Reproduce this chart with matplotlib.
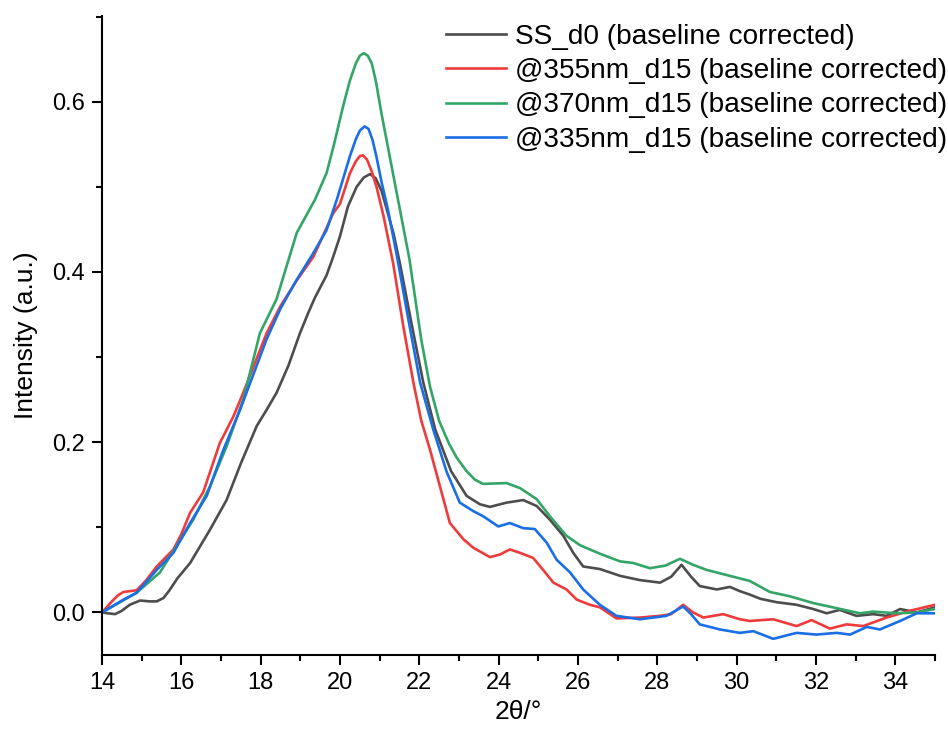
import numpy as np
import matplotlib
matplotlib.use("Agg")
import matplotlib.pyplot as plt
from matplotlib.ticker import MultipleLocator, FormatStrFormatter

plt.rcParams['font.family'] = ['Liberation Sans', 'DejaVu Sans']

# --- XRD patterns (baseline corrected) ---
ss_d0_x = [14.00, 14.15, 14.33, 14.50, 14.70, 14.96, 15.20, 15.38, 15.55, 15.70,
           15.90, 16.22, 16.72, 17.14, 17.50, 17.90, 18.15, 18.40, 18.70, 18.99,
           19.20, 19.37, 19.66, 19.83, 20.00, 20.20, 20.42, 20.60, 20.76, 20.90,
           21.05, 21.20, 21.35, 21.51, 21.80, 22.10, 22.40, 22.80, 23.19, 23.53,
           23.78, 24.20, 24.62, 24.96, 25.29, 25.63, 25.88, 26.13, 26.55, 27.06,
           27.56, 28.07, 28.35, 28.61, 28.85, 29.07, 29.50, 29.83, 30.08, 30.33,
           30.60, 31.01, 31.51, 31.93, 32.27, 32.60, 33.02, 33.44, 33.78, 34.12,
           34.54, 35.00]
ss_d0_y = [0.000, -0.001, -0.002, 0.002, 0.009, 0.014, 0.013, 0.013, 0.017, 0.026,
           0.040, 0.058, 0.097, 0.132, 0.175, 0.219, 0.238, 0.258, 0.290, 0.328,
           0.352, 0.370, 0.396, 0.418, 0.442, 0.477, 0.500, 0.511, 0.515, 0.510,
           0.495, 0.470, 0.445, 0.410, 0.340, 0.270, 0.215, 0.166, 0.137, 0.127,
           0.124, 0.129, 0.132, 0.125, 0.109, 0.090, 0.070, 0.054, 0.051, 0.043,
           0.038, 0.035, 0.042, 0.056, 0.042, 0.031, 0.027, 0.030, 0.025, 0.021,
           0.016, 0.012, 0.009, 0.004, -0.001, 0.003, -0.004, -0.002, -0.004, 0.004,
           0.000, 0.006]

nm355_x = [14.00, 14.25, 14.40, 14.54, 14.70, 14.87, 15.10, 15.38, 15.80, 16.00,
           16.22, 16.55, 16.97, 17.31, 17.56, 18.15, 18.50, 18.91, 19.33, 19.83,
           20.00, 20.25, 20.40, 20.50, 20.58, 20.68, 20.80, 20.92, 21.10, 21.34,
           21.60, 21.85, 22.05, 22.27, 22.52, 22.77, 23.11, 23.36, 23.78, 24.03,
           24.28, 24.54, 24.87, 25.12, 25.38, 25.71, 25.97, 26.30, 26.55, 26.97,
           27.56, 28.07, 28.35, 28.65, 28.90, 29.16, 29.66, 30.08, 30.33, 30.92,
           31.51, 31.89, 32.35, 32.77, 33.19, 33.78, 34.37, 35.00]
nm355_y = [0.000, 0.013, 0.020, 0.024, 0.025, 0.026, 0.037, 0.054, 0.074, 0.092,
           0.117, 0.141, 0.199, 0.230, 0.258, 0.328, 0.360, 0.390, 0.418, 0.469,
           0.480, 0.516, 0.530, 0.536, 0.537, 0.532, 0.518, 0.500, 0.465, 0.410,
           0.335, 0.270, 0.225, 0.191, 0.148, 0.105, 0.086, 0.076, 0.065, 0.068,
           0.074, 0.070, 0.064, 0.050, 0.035, 0.027, 0.015, 0.009, 0.006, -0.007,
           -0.006, -0.004, -0.002, 0.009, 0.000, -0.006, -0.002, -0.008, -0.010, -0.008,
           -0.016, -0.009, -0.019, -0.014, -0.016, -0.006, 0.002, 0.009]

nm370_x = [14.00, 14.87, 15.46, 15.88, 16.30, 16.72, 17.14, 17.56, 17.98, 18.40,
           18.91, 19.37, 19.66, 19.85, 20.08, 20.25, 20.40, 20.50, 20.60, 20.70,
           20.80, 20.90, 21.05, 21.40, 21.75, 22.05, 22.27, 22.50, 22.75, 22.94,
           23.19, 23.40, 23.61, 24.20, 24.54, 24.96, 25.29, 25.71, 26.05, 26.55,
           27.06, 27.40, 27.81, 28.20, 28.57, 28.90, 29.24, 29.91, 30.33, 30.84,
           31.34, 31.93, 32.52, 33.11, 33.44, 34.03, 34.54, 35.00]
nm370_y = [0.000, 0.023, 0.047, 0.078, 0.109, 0.148, 0.195, 0.250, 0.328, 0.368,
           0.446, 0.485, 0.516, 0.550, 0.595, 0.625, 0.645, 0.654, 0.657, 0.654,
           0.645, 0.625, 0.585, 0.500, 0.415, 0.320, 0.265, 0.225, 0.198, 0.182,
           0.166, 0.156, 0.151, 0.152, 0.146, 0.133, 0.113, 0.090, 0.079, 0.069,
           0.060, 0.058, 0.052, 0.055, 0.063, 0.056, 0.050, 0.042, 0.037, 0.024,
           0.019, 0.011, 0.005, -0.001, 0.001, -0.001, 0.000, 0.004]

nm335_x = [14.00, 14.54, 14.87, 15.38, 15.80, 16.22, 16.64, 17.06, 17.48, 17.90,
           18.15, 18.50, 18.91, 19.30, 19.66, 19.92, 20.25, 20.40, 20.50, 20.62,
           20.72, 20.82, 20.92, 21.05, 21.20, 21.43, 21.72, 22.02, 22.35, 22.69,
           23.02, 23.36, 23.61, 23.99, 24.28, 24.62, 24.91, 25.21, 25.46, 25.80,
           26.13, 26.55, 26.97, 27.56, 28.23, 28.65, 28.85, 29.07, 29.58, 30.08,
           30.42, 30.92, 31.51, 32.01, 32.52, 32.86, 33.28, 33.61, 34.12, 34.54,
           35.00]
nm335_y = [0.000, 0.015, 0.023, 0.050, 0.070, 0.105, 0.137, 0.191, 0.238, 0.290,
           0.321, 0.357, 0.391, 0.420, 0.449, 0.485, 0.536, 0.556, 0.566, 0.571,
           0.568, 0.555, 0.535, 0.505, 0.475, 0.420, 0.345, 0.270, 0.215, 0.165,
           0.129, 0.119, 0.113, 0.101, 0.105, 0.099, 0.098, 0.082, 0.062, 0.047,
           0.027, 0.009, -0.004, -0.008, -0.004, 0.007, -0.002, -0.014, -0.020, -0.024,
           -0.022, -0.031, -0.024, -0.026, -0.024, -0.026, -0.017, -0.020, -0.010, -0.001,
           -0.001]

fig = plt.figure(figsize=(9.48, 7.33), dpi=100)
ax = fig.add_axes([0.1076, 0.1064, 0.8787, 0.8716])

lw = 1.9
ax.plot(ss_d0_x, ss_d0_y, color='#4d4d4d', lw=lw, label='SS_d0 (baseline corrected)')
ax.plot(nm355_x, nm355_y, color='#ef3b3b', lw=lw, label='@355nm_d15 (baseline corrected)')
ax.plot(nm370_x, nm370_y, color='#33a566', lw=lw, label='@370nm_d15 (baseline corrected)')
ax.plot(nm335_x, nm335_y, color='#1a6ee6', lw=lw, label='@335nm_d15 (baseline corrected)')

ax.set_xlim(14, 35)
ax.set_ylim(-0.05, 0.7005)

for side in ['top', 'right']:
    ax.spines[side].set_visible(False)
for side in ['left', 'bottom']:
    ax.spines[side].set_linewidth(1.5)

ax.xaxis.set_major_locator(MultipleLocator(2))
ax.xaxis.set_minor_locator(MultipleLocator(1))
ax.yaxis.set_major_locator(MultipleLocator(0.2))
ax.yaxis.set_minor_locator(MultipleLocator(0.1))
ax.yaxis.set_major_formatter(FormatStrFormatter('%.1f'))
ax.tick_params(which='major', direction='out', length=7.5, width=1.5, labelsize=17, pad=5)
ax.tick_params(which='minor', direction='out', length=4, width=1.5)

ax.set_xlabel('2θ/°', fontsize=19, labelpad=4)
ax.set_ylabel('Intensity (a.u.)', fontsize=19, labelpad=10)

ax.legend(loc='upper right', bbox_to_anchor=(1.028, 1.006), frameon=False, fontsize=20.2,
          handlelength=2.15, handletextpad=0.32, labelspacing=0.3, borderaxespad=0.0)

fig.savefig('out.png', dpi=100)
